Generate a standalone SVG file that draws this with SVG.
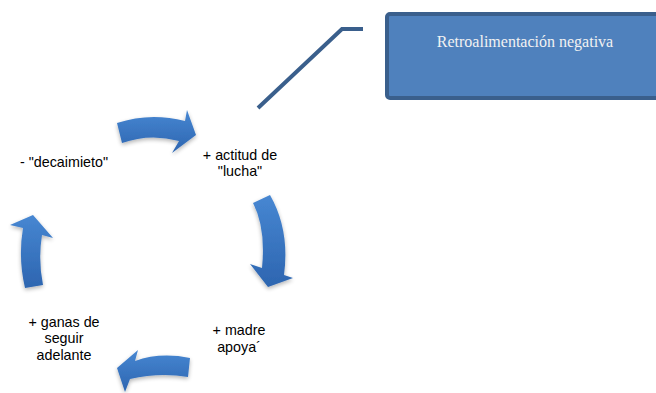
<svg xmlns="http://www.w3.org/2000/svg" width="656" height="393" viewBox="0 0 656 393">
<defs>
<linearGradient id="g" x1="0" y1="0" x2="0" y2="1">
<stop offset="0" stop-color="#4787d2"/>
<stop offset="1" stop-color="#2d65b0"/>
</linearGradient>
<filter id="sh" x="-30%" y="-30%" width="160%" height="160%">
<feGaussianBlur in="SourceAlpha" stdDeviation="2"/>
<feOffset dx="0" dy="2" result="b"/>
<feComponentTransfer><feFuncA type="linear" slope="0.3"/></feComponentTransfer>
<feMerge><feMergeNode/><feMergeNode in="SourceGraphic"/></feMerge>
</filter>
</defs>
<style>
.arr{fill:url(#g);filter:url(#sh)}
.lbl{font-family:"Liberation Sans",Arial,sans-serif;font-size:14.3px;fill:#000;text-anchor:middle}
.box{fill:#4f81bd;stroke:#3a5f8c;stroke-width:4}
.btxt{font-family:"Liberation Serif","Times New Roman",serif;font-size:16px;fill:#f2f2f2;text-anchor:middle}
.conn{fill:none;stroke:#3a5f8c;stroke-width:4}
</style>
<g id="connectors">
<path class="arr" d="M117,123 Q150,112 185,121 L187,110 L196,135 L172,153 L179,141 Q150,133 122,143 Z"/>
<path class="arr" d="M253,203 L270,195 Q290,230 284,275 L293,278 L268,287 L250,264 L262,268 Q266,228 253,203 Z"/>
<path class="arr" d="M190,358 Q160,352 135,361 L138,350 L117,368 L125,392 L130,379 Q160,372 188,377 Z"/>
<path class="arr" d="M25,288 Q18,258 23,228 L10,225 L33,215 L53,238 L42,235 Q38,260 43,285 Z"/>
<polyline class="conn" points="258,108 342,29 363,29"/>
</g>
<g id="n1"><text class="lbl" x="240" y="160">+ actitud de</text><text class="lbl" x="240" y="176">"lucha"</text></g>
<g id="n2"><text class="lbl" x="239" y="335">+ madre</text><text class="lbl" x="239" y="352">apoya´</text></g>
<g id="n3"><text class="lbl" x="64" y="327">+ ganas de</text><text class="lbl" x="64" y="343">seguir</text><text class="lbl" x="64" y="360">adelante</text></g>
<g id="n4"><text class="lbl" x="64" y="167">- "decaimieto"</text></g>
<g id="callout"><rect class="box" x="387" y="14" width="275" height="84" rx="3"/><text class="btxt" x="525" y="47">Retroalimentación negativa</text></g>
</svg>
